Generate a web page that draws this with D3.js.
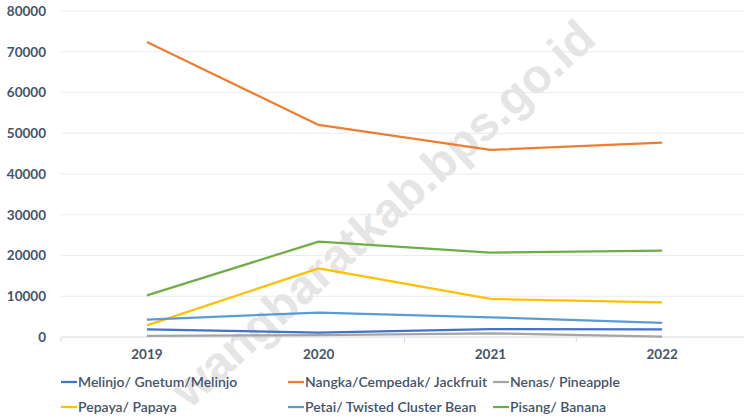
<!DOCTYPE html>
<html><head><meta charset="utf-8">
<script src="https://cdn.jsdelivr.net/npm/d3@7"></script>
<style>
html,body{margin:0;padding:0;background:#fff;}
svg{display:block;}
</style></head>
<body>
<svg id="chart" width="744" height="419"></svg>
<script>
const years = ["2019","2020","2021","2022"];
const seriesNames = ["Melinjo/ Gnetum/Melinjo","Nangka/Cempedak/ Jackfruit","Nenas/ Pineapple","Pepaya/ Papaya","Petai/ Twisted Cluster Bean","Pisang/ Banana"];
const melinjo = [1900, 1100, 1950, 1900];
const nangka = [72400, 52050, 45900, 47700];
const nenas = [250, 450, 900, 100];
const pepaya = [2850, 16850, 9330, 8500];
const petai = [4250, 6000, 4830, 3440];
const pisang = [10230, 23400, 20700, 21180];
const colors = ["#4472c4","#ed7d31","#a5a5a5","#ffc000","#5b9bd5","#70ad47"];
const yTicks = [0,10000,20000,30000,40000,50000,60000,70000,80000];

const allSeries = [melinjo, nangka, nenas, pepaya, petai, pisang];
const svg = d3.select("#chart");
const font = "Lato, 'Open Sans', sans-serif";
const textColor = "#44546a";

const x = d3.scaleBand().domain(years).range([61, 748]);
const y = d3.scaleLinear().domain([0, 80000]).range([337, 11]);

// gridlines
svg.append("g").selectAll("line").data(yTicks.filter(d=>d>0)).join("line")
  .attr("x1", 61).attr("x2", 744)
  .attr("y1", d=>y(d)).attr("y2", d=>y(d))
  .attr("stroke", "#ebebf0").attr("stroke-width", 1);

// watermark (clipped by the picture edge as in the reference)
svg.append("text")
  .attr("transform", "translate(598,42) rotate(-42)")
  .attr("text-anchor", "end")
  .attr("font-family", "'Liberation Sans', Arial, sans-serif")
  .attr("font-weight", "bold")
  .attr("font-size", 48)
  .attr("fill", "#e5e5e5")
  .text("wangbaratkab.bps.go.id");

// y axis labels
const yAxis = d3.axisLeft(y).tickValues(yTicks).tickSize(0).tickPadding(0).tickFormat(d3.format("d"));
const gy = svg.append("g").attr("transform", "translate(46,0)").call(yAxis);
gy.select(".domain").remove();
gy.selectAll("text").attr("font-family", font).attr("font-weight", "bold")
  .attr("font-size", 13.5).attr("fill", textColor);

// x axis
const xAxis = d3.axisBottom(x).tickSize(0).tickPadding(12);
const gx = svg.append("g").attr("transform", `translate(0,${y(0)})`).call(xAxis);
gx.select(".domain").remove();
gx.selectAll("text").attr("font-family", font).attr("font-weight", "bold")
  .attr("font-size", 13.5).attr("fill", textColor);
svg.append("line").attr("x1", 61).attr("x2", 744).attr("y1", y(0)).attr("y2", y(0))
  .attr("stroke", "#d9d9d9").attr("stroke-width", 1);
// category boundary ticks
svg.append("g").selectAll("line").data(years).join("line")
  .attr("x1", d=>x(d)).attr("x2", d=>x(d))
  .attr("y1", y(0)).attr("y2", y(0)+5)
  .attr("stroke", "#d9d9d9");

// lines
const line = d3.line().x((d,i)=>x(years[i]) + x.bandwidth()/2).y(d=>y(d));
svg.append("g").selectAll("path").data(allSeries).join("path")
  .attr("d", d=>line(d))
  .attr("fill", "none")
  .attr("stroke", (d,i)=>colors[i])
  .attr("stroke-width", 2.25)
  .attr("stroke-linejoin", "round");

// legend
const legX = [61, 288, 493];
const legY = [382, 407];
const leg = svg.append("g").selectAll("g").data(seriesNames).join("g")
  .attr("transform", (d,i)=>`translate(${legX[i%3]},${legY[Math.floor(i/3)]})`);
leg.append("line").attr("x1",0).attr("x2",16).attr("y1",0).attr("y2",0)
  .attr("stroke", (d,i)=>colors[i]).attr("stroke-width", 2.25);
leg.append("text").attr("x", 17).attr("y", 0).attr("dy", "0.35em")
  .attr("font-family", font).attr("font-size", 14).attr("font-weight", 600)
  .attr("fill", textColor).text(d=>d);
</script>
</body></html>
